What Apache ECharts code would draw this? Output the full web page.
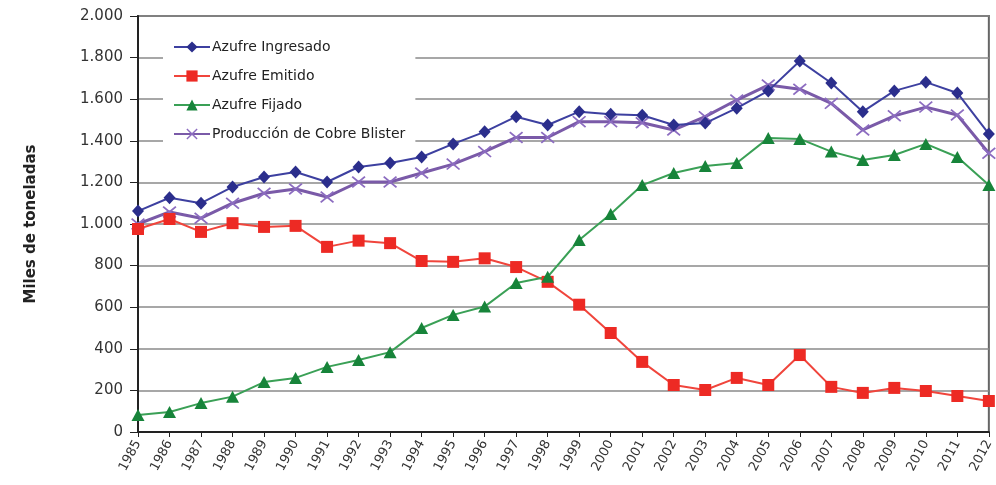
<!DOCTYPE html>
<html><head><meta charset="utf-8">
<script src="https://cdn.jsdelivr.net/npm/echarts@6/dist/echarts.min.js"></script>
<style>html,body{margin:0;padding:0;background:#fff}#c{width:996px;height:485px}</style>
</head><body><div id="c"></div>
<script>
const years = ['1985','1986','1987','1988','1989','1990','1991','1992','1993','1994','1995','1996','1997','1998','1999','2000','2001','2002','2003','2004','2005','2006','2007','2008','2009','2010','2011','2012'];
const azufreIngresado = [1062,1126,1100,1178,1226,1250,1202,1274,1293,1322,1385,1443,1516,1476,1540,1528,1523,1476,1485,1557,1640,1784,1678,1540,1640,1682,1630,1433];
const azufreEmitido = [976,1024,962,1004,986,991,890,920,908,822,818,835,793,722,612,476,337,226,202,260,226,370,217,188,212,197,173,149];
const azufreFijado = [82,96,139,170,240,260,313,346,384,500,563,603,716,746,923,1048,1187,1245,1279,1293,1413,1409,1348,1308,1332,1385,1322,1187];
const cobreBlister = [1000,1058,1028,1100,1148,1168,1130,1202,1202,1245,1288,1348,1416,1416,1492,1492,1487,1452,1516,1596,1668,1648,1580,1452,1520,1562,1524,1340];
const seriesNames = ['Azufre Ingresado','Azufre Emitido','Azufre Fijado','Producción de Cobre Blister'];
const yTitle = 'Miles de toneladas';

const xPath = 'path://M0,1.2 L1.2,0 L7,4.8 L12.8,0 L14,1.2 L8.4,6 L14,10.8 L12.8,12 L7,7.2 L1.2,12 L0,10.8 L5.6,6 Z';
const font = 'DejaVu Sans, Liberation Sans, Arial, sans-serif';
const chart = echarts.init(document.getElementById('c'), null, {renderer:'canvas'});
chart.setOption({
  animation:false,
  backgroundColor:'#fff',
  textStyle:{fontFamily:font},
  grid:{left:138,right:2,top:16,bottom:53,show:true,borderColor:'#666',borderWidth:2,backgroundColor:'transparent'},
  legend:{
    orient:'vertical', left:163, top:30, itemGap:15, itemWidth:36, itemHeight:14,
    backgroundColor:'#fff', padding:[10,10,10,10],
    textStyle:{fontFamily:font,fontSize:14,color:'#222',padding:[0,0,0,-3]},
    data:seriesNames
  },
  xAxis:{
    type:'category', data:years, boundaryGap:false,
    axisLine:{lineStyle:{color:'#222',width:2}},
    axisTick:{show:true,alignWithLabel:true,length:5,lineStyle:{color:'#222'}},
    axisLabel:{rotate:62,fontSize:13,color:'#333',margin:9,fontFamily:font,interval:0},
    splitLine:{show:false}
  },
  yAxis:{
    type:'value', min:0, max:2000, interval:200,
    name:yTitle, nameLocation:'middle', nameGap:99, nameRotate:90,
    nameTextStyle:{fontSize:15,fontWeight:'bold',color:'#222',fontFamily:font},
    axisLine:{show:true,lineStyle:{color:'#222',width:2}},
    axisTick:{show:true,length:8,lineStyle:{color:'#222'}},
    axisLabel:{fontSize:15,color:'#333',margin:15,fontFamily:font,
      formatter:v=>v>=1000?Math.floor(v/1000)+'.'+String(v%1000).padStart(3,'0'):String(v)},
    splitLine:{show:true,lineStyle:{color:'#8a8a8a',width:1.5}}
  },
  series:[
    {name:seriesNames[0],type:'line',data:azufreIngresado,symbol:'diamond',symbolSize:[12,13],
      itemStyle:{color:'#2b2e8c'},lineStyle:{color:'#3d40a0',width:2},z:5},
    {name:seriesNames[1],type:'line',data:azufreEmitido,symbol:'rect',symbolSize:12,
      itemStyle:{color:'#ed2a24'},lineStyle:{color:'#f0453c',width:2},z:4},
    {name:seriesNames[2],type:'line',data:azufreFijado,symbol:'triangle',symbolSize:[13,12],
      itemStyle:{color:'#17843a'},lineStyle:{color:'#3aa056',width:2},z:4},
    {name:seriesNames[3],type:'line',data:cobreBlister,symbol:xPath,symbolSize:[14,12],
      itemStyle:{color:'#8c6cc0'},lineStyle:{color:'#7a5aa8',width:3},z:3}
  ]
});
</script></body></html>
